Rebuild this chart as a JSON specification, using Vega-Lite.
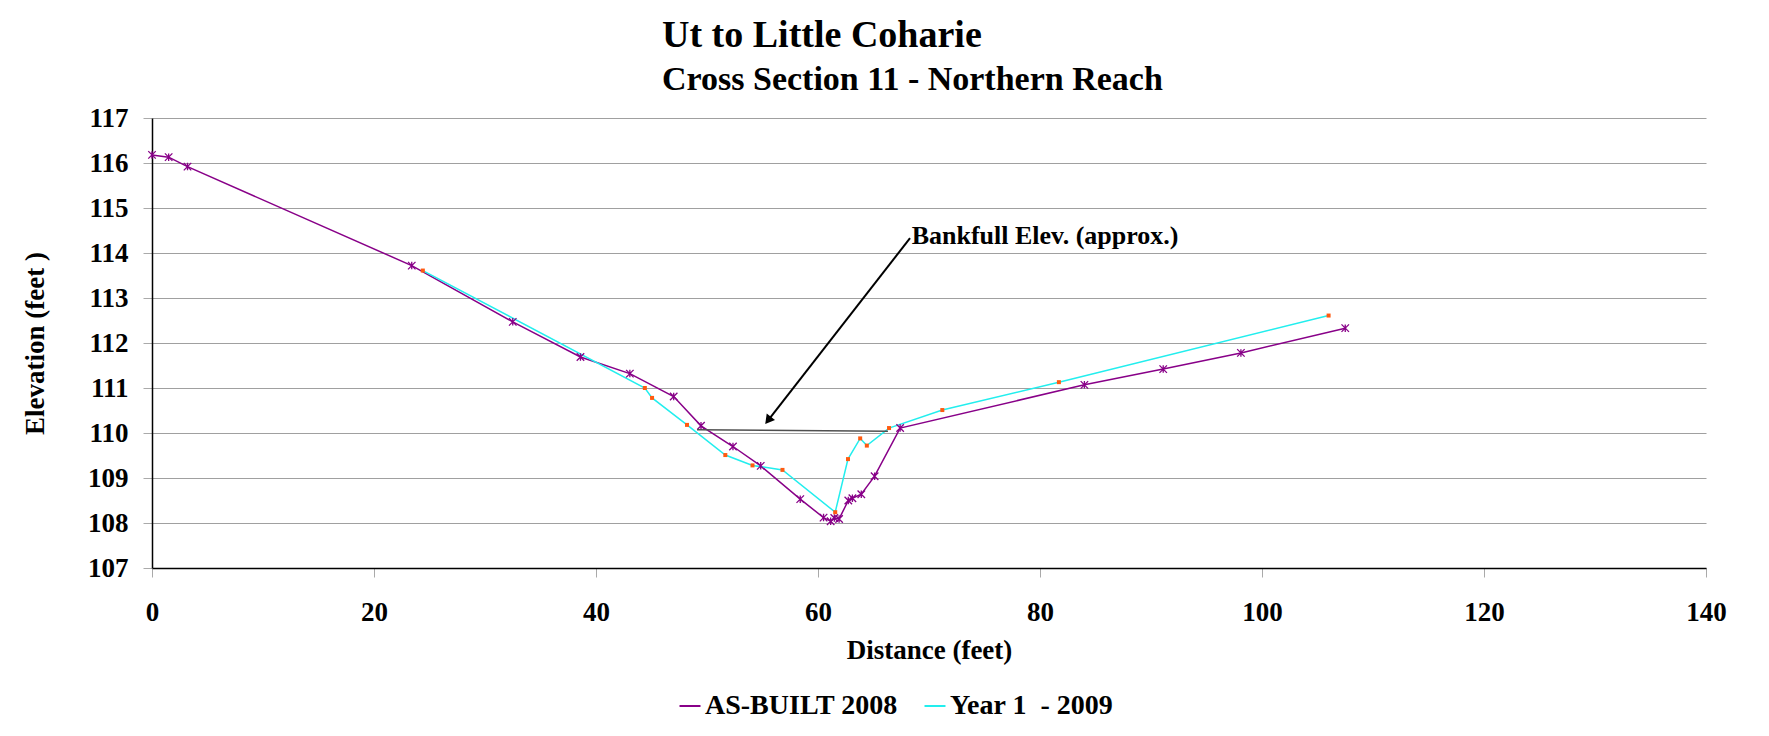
{
  "$schema": "https://vega.github.io/schema/vega-lite/v6.json",
  "width": 1554,
  "height": 450,
  "autosize": {"type": "none"},
  "padding": {"left": 152, "top": 118, "right": 63, "bottom": 168},
  "background": "white",
  "title": {
    "text": "Ut to Little Coharie",
    "subtitle": "Cross Section 11 - Northern Reach",
    "anchor": "start",
    "frame": "group",
    "dx": 510,
    "offset": 7,
    "font": "Liberation Serif",
    "fontSize": 38,
    "fontWeight": "bold",
    "color": "black",
    "subtitleFont": "Liberation Serif",
    "subtitleFontSize": 34,
    "subtitleFontWeight": "bold",
    "subtitleColor": "black",
    "subtitlePadding": 8
  },
  "config": {
    "view": {"stroke": null},
    "font": "Liberation Serif",
    "legend": {
      "orient": "none",
      "legendX": 524,
      "legendY": 574,
      "direction": "horizontal",
      "labelFont": "Liberation Serif",
      "labelFontSize": 28,
      "labelFontWeight": "bold",
      "labelColor": "black",
      "labelLimit": 500,
      "symbolType": "stroke",
      "symbolSize": 441,
      "symbolStrokeWidth": 2,
      "labelOffset": 1,
      "columnPadding": 22,
      "title": null
    }
  },
  "datasets": {
    "profile": [
      {"series": "AS-BUILT 2008", "distance": 0, "elevation": 116.18},
      {"series": "AS-BUILT 2008", "distance": 1.5, "elevation": 116.13},
      {"series": "AS-BUILT 2008", "distance": 3.2, "elevation": 115.92},
      {"series": "AS-BUILT 2008", "distance": 23.4, "elevation": 113.72},
      {"series": "AS-BUILT 2008", "distance": 32.5, "elevation": 112.47},
      {"series": "AS-BUILT 2008", "distance": 38.6, "elevation": 111.69},
      {"series": "AS-BUILT 2008", "distance": 43.05, "elevation": 111.32},
      {"series": "AS-BUILT 2008", "distance": 47.0, "elevation": 110.81},
      {"series": "AS-BUILT 2008", "distance": 49.46, "elevation": 110.16},
      {"series": "AS-BUILT 2008", "distance": 52.34, "elevation": 109.7},
      {"series": "AS-BUILT 2008", "distance": 54.84, "elevation": 109.27},
      {"series": "AS-BUILT 2008", "distance": 58.4, "elevation": 108.53},
      {"series": "AS-BUILT 2008", "distance": 60.5, "elevation": 108.12},
      {"series": "AS-BUILT 2008", "distance": 61.14, "elevation": 108.04},
      {"series": "AS-BUILT 2008", "distance": 61.47, "elevation": 108.11},
      {"series": "AS-BUILT 2008", "distance": 61.9, "elevation": 108.09},
      {"series": "AS-BUILT 2008", "distance": 62.73, "elevation": 108.5},
      {"series": "AS-BUILT 2008", "distance": 63.1, "elevation": 108.55},
      {"series": "AS-BUILT 2008", "distance": 63.9, "elevation": 108.64},
      {"series": "AS-BUILT 2008", "distance": 65.1, "elevation": 109.04},
      {"series": "AS-BUILT 2008", "distance": 67.4, "elevation": 110.11},
      {"series": "AS-BUILT 2008", "distance": 84.0, "elevation": 111.07},
      {"series": "AS-BUILT 2008", "distance": 91.1, "elevation": 111.42},
      {"series": "AS-BUILT 2008", "distance": 98.1, "elevation": 111.78},
      {"series": "AS-BUILT 2008", "distance": 107.5, "elevation": 112.33},
      {"series": "Year 1  - 2009", "distance": 24.4, "elevation": 113.61},
      {"series": "Year 1  - 2009", "distance": 44.4, "elevation": 111.0},
      {"series": "Year 1  - 2009", "distance": 45.05, "elevation": 110.78},
      {"series": "Year 1  - 2009", "distance": 48.2, "elevation": 110.18},
      {"series": "Year 1  - 2009", "distance": 51.65, "elevation": 109.51},
      {"series": "Year 1  - 2009", "distance": 54.1, "elevation": 109.28},
      {"series": "Year 1  - 2009", "distance": 56.8, "elevation": 109.18},
      {"series": "Year 1  - 2009", "distance": 61.55, "elevation": 108.24},
      {"series": "Year 1  - 2009", "distance": 62.7, "elevation": 109.42},
      {"series": "Year 1  - 2009", "distance": 63.8, "elevation": 109.88},
      {"series": "Year 1  - 2009", "distance": 64.4, "elevation": 109.72},
      {"series": "Year 1  - 2009", "distance": 66.4, "elevation": 110.11},
      {"series": "Year 1  - 2009", "distance": 71.2, "elevation": 110.51},
      {"series": "Year 1  - 2009", "distance": 81.7, "elevation": 111.13},
      {"series": "Year 1  - 2009", "distance": 106.0, "elevation": 112.61}
    ],
    "bankfull": [
      {"distance": 49.1, "elevation": 110.07},
      {"distance": 66.3, "elevation": 110.04}
    ],
    "arrow": [
      {"distance": 68.29, "elevation": 114.33},
      {"distance": 55.54, "elevation": 110.29}
    ],
    "arrowhead": [
      {"distance": 55.5, "elevation": 110.28}
    ],
    "label": [
      {"distance": 68.44, "elevation": 114.2, "text": "Bankfull Elev. (approx.)"}
    ]
  },
  "layer": [
    {
      "data": {"name": "profile"},
      "mark": {"type": "line", "strokeWidth": 1.5},
      "encoding": {
        "x": {
          "field": "distance",
          "type": "quantitative",
          "scale": {"domain": [0, 140], "nice": false, "zero": false},
          "axis": {
            "title": "Distance (feet)",
            "values": [0, 20, 40, 60, 80, 100, 120, 140],
            "grid": false,
            "domainColor": "black",
            "domainWidth": 1.5,
            "tickColor": "#aaaaaa",
            "tickSize": 9,
            "labelFont": "Liberation Serif",
            "labelFontSize": 27,
            "labelFontWeight": "bold",
            "labelColor": "black",
            "labelPadding": 22,
            "labelFlush": false,
            "titleFont": "Liberation Serif",
            "titleFontSize": 27,
            "titleFontWeight": "bold",
            "titleColor": "black",
            "titlePadding": 12
          }
        },
        "y": {
          "field": "elevation",
          "type": "quantitative",
          "scale": {"domain": [107, 117], "nice": false, "zero": false},
          "axis": {
            "title": "Elevation (feet )",
            "values": [107, 108, 109, 110, 111, 112, 113, 114, 115, 116, 117],
            "grid": true,
            "gridColor": "#a0a0a0",
            "gridWidth": 1.2,
            "domainColor": "black",
            "domainWidth": 1.5,
            "tickColor": "#aaaaaa",
            "tickSize": 9,
            "labelFont": "Liberation Serif",
            "labelFontSize": 27,
            "labelFontWeight": "bold",
            "labelColor": "black",
            "labelPadding": 15,
            "titleFont": "Liberation Serif",
            "titleFontSize": 27,
            "titleFontWeight": "bold",
            "titleColor": "black",
            "titlePadding": 38
          }
        },
        "color": {
          "field": "series",
          "type": "nominal",
          "scale": {"domain": ["AS-BUILT 2008", "Year 1  - 2009"], "range": ["#880088", "#22EEEE"]},
          "legend": {
            "labelExpr": "datum.label === 'AS-BUILT 2008' ? datum.label : 'Year 1\u00a0\u00a0- 2009'"
          }
        }
      }
    },
    {
      "data": {"name": "profile"},
      "transform": [{"filter": "datum.series === 'AS-BUILT 2008'"}],
      "mark": {"type": "point", "shape": "M-1,-1L1,1M-1,1L1,-1M0,-1L0,1", "size": 56, "filled": false, "stroke": "#880088", "strokeWidth": 1.3, "opacity": 1},
      "encoding": {
        "x": {"field": "distance", "type": "quantitative"},
        "y": {"field": "elevation", "type": "quantitative"}
      }
    },
    {
      "data": {"name": "profile"},
      "transform": [{"filter": "datum.series === 'Year 1  - 2009'"}],
      "mark": {"type": "square", "size": 16, "color": "#FF5A10", "opacity": 1},
      "encoding": {
        "x": {"field": "distance", "type": "quantitative"},
        "y": {"field": "elevation", "type": "quantitative"}
      }
    },
    {
      "data": {"name": "bankfull"},
      "mark": {"type": "line", "color": "#505050", "strokeWidth": 1.5},
      "encoding": {
        "x": {"field": "distance", "type": "quantitative"},
        "y": {"field": "elevation", "type": "quantitative"}
      }
    },
    {
      "data": {"name": "arrow"},
      "mark": {"type": "line", "color": "black", "strokeWidth": 2},
      "encoding": {
        "x": {"field": "distance", "type": "quantitative"},
        "y": {"field": "elevation", "type": "quantitative"}
      }
    },
    {
      "data": {"name": "arrowhead"},
      "mark": {"type": "point", "shape": "triangle-up", "angle": 218, "size": 110, "filled": true, "color": "black", "opacity": 1},
      "encoding": {
        "x": {"field": "distance", "type": "quantitative"},
        "y": {"field": "elevation", "type": "quantitative"}
      }
    },
    {
      "data": {"name": "label"},
      "mark": {"type": "text", "align": "left", "baseline": "alphabetic", "font": "Liberation Serif", "fontSize": 26, "fontWeight": "bold", "color": "black"},
      "encoding": {
        "x": {"field": "distance", "type": "quantitative"},
        "y": {"field": "elevation", "type": "quantitative"},
        "text": {"field": "text"}
      }
    }
  ]
}
